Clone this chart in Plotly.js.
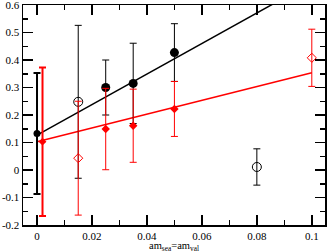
<!DOCTYPE html>
<html><head><meta charset="utf-8">
<script src="https://cdn.plot.ly/plotly-3.0.1.min.js"></script>
<style>body{margin:0;padding:0;background:#fff}#chart{width:327px;height:252px}</style>
</head><body><div id="chart"></div>
<script>
// Data
var fitX = [0, 0.1];
var blackFitY = [0.127, 0.682];
var redFitY = [0.103, 0.354];

var blackChiX = [0], blackChiY = [0.133], blackChiErr = [0.22];
var redChiX = [0.002], redChiY = [0.103], redChiErr = [0.27];

var blackX = [0.025, 0.035, 0.05], blackY = [0.30, 0.315, 0.427], blackErr = [0.10, 0.146, 0.105];
var redX = [0.025, 0.035, 0.05], redY = [0.149, 0.161, 0.222], redErr = [0.148, 0.133, 0.10];

var openCircX = [0.015, 0.08], openCircY = [0.248, 0.011], openCircErr = [0.278, 0.066];
var openDiaX = [0.015, 0.1], openDiaY = [0.043, 0.408], openDiaErr = [0.207, 0.104];

var xTickVals = [0, 0.02, 0.04, 0.06, 0.08, 0.1];
var xTickText = ['0', '0.02', '0.04', '0.06', '0.08', '0.1'];
var yTickVals = [-0.2, -0.1, 0, 0.1, 0.2, 0.3, 0.4, 0.5, 0.6];
var yTickText = ['-0.2', '-0.1', '0', '0.1', '0.2', '0.3', '0.4', '0.5', '0.6'];
var xTitle = 'am<sub>sea</sub>=am<sub>val</sub>';

function eb(arr, color, th) {
  return {type: 'data', array: arr, visible: true, color: color, thickness: th, width: 3.5};
}

var traces = [
  {x: fitX, y: blackFitY, mode: 'lines', line: {color: '#000', width: 1.5}},
  {x: fitX, y: redFitY, mode: 'lines', line: {color: '#ff0000', width: 1.5}},
  {x: openCircX, y: openCircY, mode: 'markers', error_y: eb(openCircErr, '#000', 1),
   marker: {symbol: 'circle-open', size: 9, color: '#000', line: {width: 1}}},
  {x: openDiaX, y: openDiaY, mode: 'markers', error_y: eb(openDiaErr, '#ff0000', 1),
   marker: {symbol: 'diamond-open', size: 7, color: '#ff0000', line: {width: 1}}},
  {x: blackChiX, y: blackChiY, mode: 'markers', error_y: eb(blackChiErr, '#000', 2),
   marker: {symbol: 'circle', size: 7, color: '#000'}},
  {x: redChiX, y: redChiY, mode: 'markers', error_y: eb(redChiErr, '#ff0000', 2),
   marker: {symbol: 'diamond', size: 6, color: '#ff0000'}},
  {x: blackX, y: blackY, mode: 'markers', error_y: eb(blackErr, '#000', 1),
   marker: {symbol: 'circle', size: 9, color: '#000'}},
  {x: redX, y: redY, mode: 'markers', error_y: eb(redErr, '#ff0000', 1),
   marker: {symbol: 'diamond', size: 6.5, color: '#ff0000'}}
];

var font = {family: 'Liberation Serif, Times New Roman, serif', size: 11, color: '#000'};
var titleFont = {family: 'Liberation Serif, Times New Roman, serif', size: 10.5, color: '#000'};

var layout = {
  width: 327, height: 252,
  margin: {l: 23, r: 2, t: 5, b: 27, autoexpand: false},
  showlegend: false,
  paper_bgcolor: '#fff', plot_bgcolor: '#fff',
  font: font,
  xaxis: {
    range: [-0.0051, 0.1048], tickvals: xTickVals, ticktext: xTickText,
    ticks: 'inside', ticklen: 10, tickwidth: 1.5, tickcolor: '#000',
    minor: {dtick: 0.01, tick0: 0, ticks: 'inside', ticklen: 5, tickwidth: 1.5, tickcolor: '#000'},
    showline: true, linecolor: '#000', linewidth: 1.5, mirror: 'allticks',
    showgrid: false, zeroline: false, tickfont: font, automargin: false,
    ticklabeloverflow: 'allow'
  },
  yaxis: {
    range: [-0.2, 0.6], tickvals: yTickVals, ticktext: yTickText,
    ticks: 'inside', ticklen: 10, tickwidth: 1.5, tickcolor: '#000',
    minor: {dtick: 0.05, tick0: 0, ticks: 'inside', ticklen: 5, tickwidth: 1.5, tickcolor: '#000'},
    showline: true, linecolor: '#000', linewidth: 1.5, mirror: 'allticks',
    showgrid: false, zeroline: false, tickfont: font, automargin: false,
    ticklabeloverflow: 'allow'
  },
  annotations: [{
    text: xTitle, xref: 'paper', yref: 'paper', x: 0.5, y: 0,
    xanchor: 'center', yanchor: 'top', yshift: -12.8, showarrow: false, font: titleFont
  }]
};

Plotly.newPlot('chart', traces, layout, {staticPlot: true, displayModeBar: false});
</script>
</body></html>
